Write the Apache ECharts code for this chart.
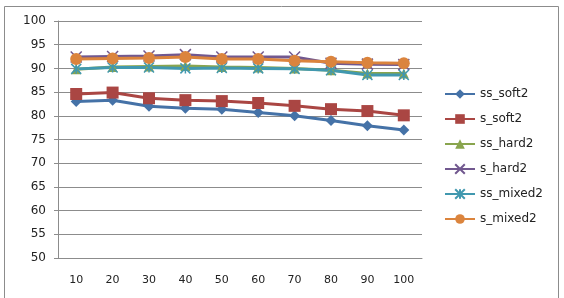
<!DOCTYPE html>
<html>
<head>
<meta charset="utf-8">
<script src="https://cdn.jsdelivr.net/npm/echarts@6/dist/echarts.min.js"></script>
<style>
html,body{margin:0;padding:0;background:#fff;}
#chart{width:564px;height:298px;}
</style>
</head>
<body>
<div id="chart"></div>
<script>
var categories = ['10', '20', '30', '40', '50', '60', '70', '80', '90', '100'];
var ss_soft2 = [83.0, 83.3, 82.0, 81.6, 81.4, 80.7, 80.0, 79.0, 77.9, 77.0];
var s_soft2 = [84.6, 84.9, 83.7, 83.3, 83.1, 82.7, 82.1, 81.4, 81.0, 80.1];
var ss_hard2 = [89.8, 90.3, 90.4, 90.5, 90.3, 90.2, 90.0, 89.6, 88.9, 88.9];
var s_hard2 = [92.4, 92.5, 92.6, 92.9, 92.4, 92.4, 92.4, 91.1, 90.9, 90.8];
var ss_mixed2 = [89.9, 90.2, 90.2, 90.0, 90.1, 90.0, 89.9, 89.6, 88.6, 88.6];
var s_mixed2 = [92.0, 92.1, 92.2, 92.4, 92.0, 92.0, 91.6, 91.4, 91.2, 91.1];

var myChart = echarts.init(document.getElementById('chart'));

var font = 'Verdana, "DejaVu Sans", sans-serif';
var xPath = 'path://M0,0L10,10M10,0L0,10';
var starPath = 'path://M0,0L10,10M10,0L0,10M5,0L5,10';

function lineSeries(name, data, color, symbol, size, hollow) {
    var s = {
        name: name,
        type: 'line',
        data: data,
        color: color,
        symbol: symbol,
        symbolSize: size,
        lineStyle: { width: 3, color: color },
        itemStyle: { color: color }
    };
    if (hollow) {
        s.itemStyle = { color: 'rgba(0,0,0,0)', borderColor: color, borderWidth: 1.5 };
    }
    return s;
}

var option = {
    animation: false,
    backgroundColor: '#fff',
    textStyle: { fontFamily: font },
    graphic: [{
        type: 'rect',
        shape: { x: 4.5, y: 6.5, width: 554, height: 300 },
        style: { fill: 'none', stroke: '#8c8c8c', lineWidth: 1 },
        silent: true
    }],
    grid: { left: 58, top: 21, right: 142, bottom: 40 },
    legend: {
        orient: 'vertical',
        left: 439,
        top: 83,
        itemWidth: 30,
        itemHeight: 12,
        itemGap: 13,
        textStyle: { fontFamily: font, fontSize: 12, color: '#222' },
        data: ['ss_soft2', 's_soft2', 'ss_hard2', 's_hard2', 'ss_mixed2', 's_mixed2']
    },
    xAxis: {
        type: 'category',
        data: categories,
        axisLine: { lineStyle: { color: '#8c8c8c' } },
        axisTick: { length: 5, lineStyle: { color: '#8c8c8c' } },
        axisLabel: { margin: 17, fontSize: 11, color: '#222', fontFamily: font }
    },
    yAxis: {
        type: 'value',
        min: 50,
        max: 100,
        interval: 5,
        axisLine: { show: true, lineStyle: { color: '#8c8c8c' } },
        axisTick: { show: true, length: 4, lineStyle: { color: '#8c8c8c' } },
        axisLabel: { margin: 12, fontSize: 12, color: '#222', fontFamily: font },
        splitLine: { lineStyle: { color: '#8c8c8c' } }
    },
    series: [
        lineSeries('ss_soft2', ss_soft2, '#4572A7', 'diamond', 11),
        lineSeries('s_soft2', s_soft2, '#AA4643', 'rect', 12),
        lineSeries('ss_hard2', ss_hard2, '#89A54E', 'triangle', 10),
        lineSeries('s_hard2', s_hard2, '#71588F', xPath, 11, true),
        lineSeries('ss_mixed2', ss_mixed2, '#4198AF', starPath, 10, true),
        lineSeries('s_mixed2', s_mixed2, '#DB843D', 'circle', 12)
    ]
};

myChart.setOption(option);
</script>
</body>
</html>
